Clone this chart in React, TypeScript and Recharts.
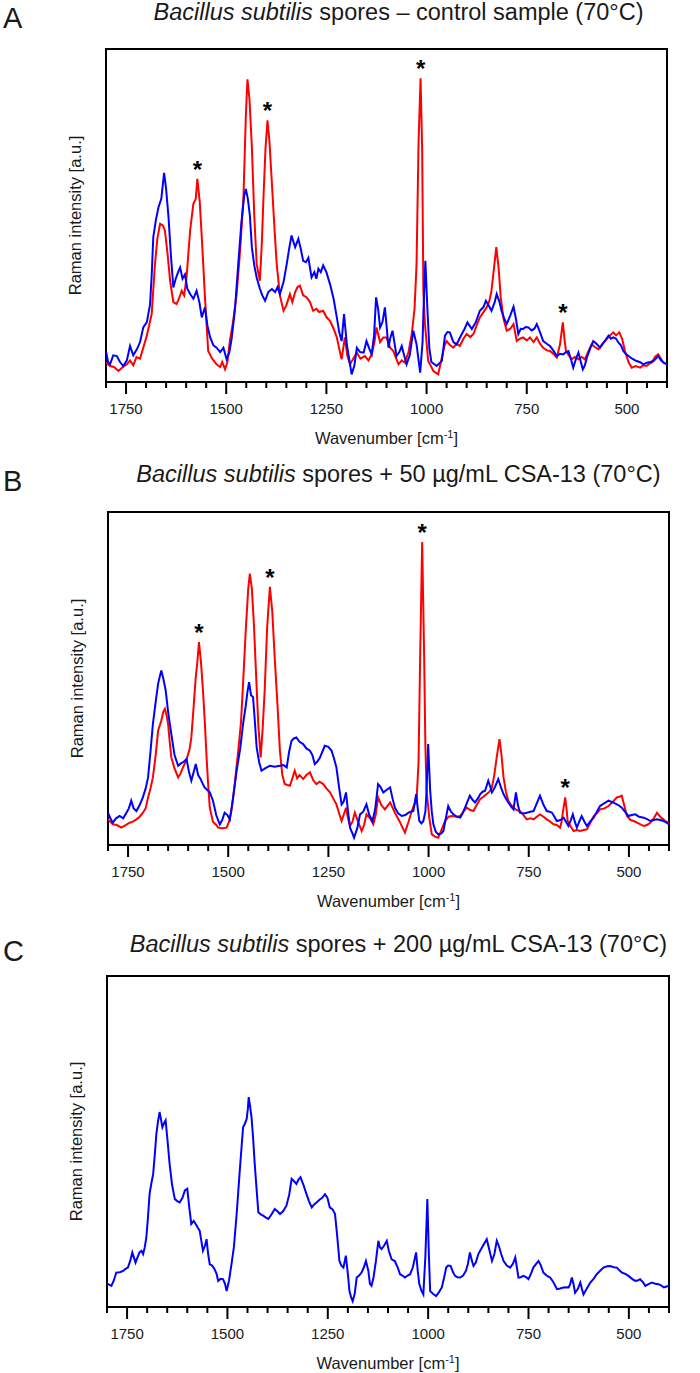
import { LineChart, Line, XAxis, YAxis, ReferenceArea, ReferenceDot } from "recharts";

const FONT = '"Liberation Sans", Arial, sans-serif';

// x axis ticks (cm-1)
const tickValues = [
  400, 450, 500, 550, 600, 650, 700, 750, 800, 850, 900, 950, 1000, 1050, 1100,
  1150, 1200, 1250, 1300, 1350, 1400, 1450, 1500, 1550, 1600, 1650, 1700, 1750, 1800,
];
const majorTicks = [1750, 1500, 1250, 1000, 750, 500];

// ---- panel A: control sample ----
const aRedWn = [
  1800, 1790, 1780, 1769, 1758, 1748, 1740, 1732, 1724, 1715,
  1707, 1698, 1686, 1678, 1672, 1665, 1658, 1653, 1646, 1640,
  1632, 1624, 1618, 1611, 1605, 1599, 1590, 1582, 1576, 1572,
  1566, 1561, 1553, 1545, 1535, 1524, 1515, 1510, 1503, 1497,
  1491, 1483, 1474, 1465, 1457, 1451, 1447, 1442, 1436, 1430,
  1424, 1416, 1411, 1407, 1402, 1397, 1392, 1384, 1379, 1374,
  1366, 1357, 1350, 1341, 1335, 1328, 1322, 1316, 1308, 1299,
  1291, 1283, 1275, 1268, 1258, 1250, 1241, 1232, 1224, 1218,
  1212, 1204, 1198, 1191, 1183, 1174, 1165, 1154, 1145, 1137,
  1130, 1125, 1116, 1108, 1100, 1091, 1083, 1070, 1062, 1054,
  1045, 1037, 1030, 1025, 1020, 1015, 1011, 1008, 1004, 996,
  990, 983, 971, 962, 955, 950, 941, 933, 925, 917,
  908, 900, 891, 883, 875, 867, 858, 850, 843, 838,
  832, 826, 820, 815, 808, 800, 791, 783, 775, 767,
  759, 750, 742, 733, 725, 717, 709, 700, 692, 684,
  675, 667, 660, 655, 652, 645, 638, 630, 621, 613,
  605, 597, 588, 580, 571, 561, 551, 542, 534, 527,
  519, 512, 505, 496, 488, 478, 467, 459, 451, 444,
  438, 430, 422, 415, 409, 400,
];
const aRedI = [
  5.8, 4.8, 4.5, 3.3, 4.5, 5.3, 6.5, 5.0, 7.5, 7.0,
  10.3, 14, 20.4, 35, 43, 47.5, 47, 45.5, 38, 30.4,
  24, 23.4, 25, 27.4, 26, 31.4, 45.5, 53.5, 55, 61,
  54, 43.5, 25.4, 9.3, 7, 5.3, 4.5, 6, 3.8, 6,
  12.3, 18, 26.4, 40, 55.5, 80, 90.9, 85, 70.6, 50,
  35.4, 30.4, 42, 55.5, 70, 78.6, 72, 55.5, 45, 35.4,
  26, 21.4, 23, 26.4, 24, 27, 28.5, 28.9, 26, 25.4,
  24, 21.4, 22, 21, 21.4, 19.5, 18.4, 16, 13.4, 10,
  6.8, 13.4, 8, 5.3, 7, 8.8, 7, 7.8, 6.5, 8.3,
  12, 16.4, 12, 13.4, 13.4, 10.3, 9.3, 5.3, 6.5, 5.8,
  9, 14.4, 22, 35.4, 72, 91.2, 70, 27.4, 17.4, 6.3,
  5, 3.3, 2.3, 7.3, 11, 12.3, 11, 10.3, 11.5, 10.8,
  13, 14.4, 13.5, 14.4, 17, 19.4, 21, 22.4, 24.5, 27.4,
  34, 40.5, 34, 25.4, 19, 15.4, 16, 17.4, 12.3, 13,
  13.4, 12.5, 13.4, 12, 13.4, 11.5, 10.3, 9.5, 9.3, 8.5,
  7.3, 11.3, 17.9, 12, 9.3, 8, 6.8, 7.5, 6.8, 7.5,
  6.8, 9, 11.3, 10.5, 9.8, 11.5, 12.8, 14, 14.9, 14,
  14.9, 13, 9.3, 6, 4.3, 4.8, 4.3, 5, 4.8, 5.5,
  5.8, 7.5, 8.3, 7, 5.8, 5.3,
];
const aBlueWn = [
  1800, 1795, 1790, 1782, 1773, 1765, 1757, 1748, 1740, 1732,
  1723, 1715, 1707, 1698, 1690, 1686, 1682, 1675, 1669, 1662,
  1655, 1650, 1644, 1638, 1632, 1626, 1620, 1615, 1609, 1603,
  1597, 1590, 1582, 1574, 1567, 1561, 1553, 1547, 1540, 1532,
  1524, 1515, 1507, 1499, 1492, 1486, 1478, 1470, 1462, 1455,
  1451, 1446, 1441, 1436, 1430, 1424, 1416, 1410, 1403, 1395,
  1386, 1378, 1372, 1366, 1357, 1349, 1343, 1337, 1332, 1328,
  1320, 1314, 1308, 1301, 1295, 1287, 1280, 1275, 1270, 1264,
  1258, 1250, 1241, 1232, 1224, 1218, 1212, 1206, 1199, 1192,
  1187, 1180, 1174, 1166, 1157, 1150, 1143, 1137, 1131, 1126,
  1121, 1116, 1110, 1104, 1095, 1091, 1085, 1075, 1068, 1062,
  1056, 1050, 1042, 1033, 1025, 1016, 1010, 1008, 1003, 998,
  993, 988, 975, 962, 954, 948, 942, 933, 925, 918,
  912, 905, 898, 887, 877, 867, 858, 852, 845, 838,
  830, 825, 818, 813, 806, 800, 791, 783, 777, 771,
  765, 759, 753, 746, 738, 731, 725, 717, 709, 700,
  692, 684, 675, 667, 659, 652, 646, 640, 634, 627,
  621, 615, 610, 605, 600, 592, 584, 576, 567, 557,
  546, 540, 534, 527, 521, 515, 509, 503, 496, 487,
  476, 468, 459, 450, 442, 434, 428, 422, 415, 408,
  400,
];
const aBlueI = [
  9.3, 6, 5.3, 8, 7.8, 6, 4.8, 6.5, 10.8, 8,
  9.8, 12, 16.4, 18, 23.4, 32, 43.5, 49, 52.5, 55,
  62.8, 58, 49.5, 38, 28.4, 31, 33, 34.4, 31, 32.3,
  28, 26.4, 25, 27.4, 24, 19.4, 22.4, 17, 13.4, 11,
  10.3, 9, 10.3, 6.8, 9, 13.4, 22, 35.4, 48, 56,
  58, 55, 50, 40.5, 35, 31.4, 28, 26, 24.4, 27,
  27.9, 27, 28.5, 26.4, 30, 35.4, 40, 44, 42, 40.5,
  43, 40, 36.4, 36, 37.3, 31.4, 33, 31, 34, 33,
  35, 33, 29.4, 25, 19.4, 15, 12.3, 20.4, 11.3, 6,
  2.3, 5, 10.3, 9, 8.8, 12.3, 10, 8.3, 14, 25.4,
  22, 16.4, 18, 22.4, 10.3, 13, 15.4, 7.8, 9, 10.8,
  8, 5.3, 8, 15.4, 11.3, 2.8, 12, 20.4, 36.4, 22,
  10, 6, 4.8, 6.3, 13.9, 15, 14.9, 12, 11.3, 13,
  14.4, 16, 17.9, 15.9, 18, 21.4, 22.5, 24.4, 23, 21.4,
  24, 26.4, 24, 21.4, 19, 17.4, 20, 22.6, 19, 14.4,
  16, 15.9, 16.5, 16.4, 15.5, 16, 17.4, 15, 12.3, 11.5,
  10.8, 9.5, 7.8, 8.5, 8.3, 9, 9.3, 7, 4.3, 7,
  8.8, 6, 3.8, 5, 7.3, 10, 12.3, 11.5, 10.3, 12,
  13.9, 13, 13.4, 13, 11.8, 11, 9.3, 8.5, 7.8, 7,
  6.3, 6, 5.3, 5.8, 6, 6.3, 7, 7.8, 6.5, 5.8,
  5.3,
];
const aStars = [1572, 1397, 1015, 660];

// ---- panel B: + 50 ug/mL CSA-13 ----
const bRedWn = [
  1800, 1788, 1778, 1767, 1756, 1746, 1738, 1729, 1721, 1713,
  1706, 1700, 1694, 1688, 1681, 1675, 1667, 1662, 1658, 1654,
  1650, 1646, 1642, 1634, 1625, 1619, 1613, 1606, 1600, 1596,
  1592, 1586, 1581, 1577, 1573, 1568, 1563, 1558, 1554, 1550,
  1546, 1538, 1530, 1525, 1515, 1504, 1498, 1492, 1484, 1475,
  1468, 1463, 1456, 1450, 1446, 1441, 1436, 1430, 1425, 1419,
  1414, 1409, 1403, 1396, 1390, 1384, 1377, 1371, 1365, 1359,
  1352, 1346, 1340, 1334, 1328, 1322, 1313, 1305, 1296, 1288,
  1280, 1272, 1263, 1255, 1246, 1238, 1230, 1222, 1217, 1212,
  1206, 1201, 1196, 1190, 1184, 1176, 1167, 1161, 1155, 1146,
  1138, 1132, 1126, 1118, 1109, 1096, 1084, 1072, 1059, 1050,
  1042, 1036, 1030, 1025, 1021, 1016, 1011, 1008, 1005, 998,
  992, 984, 976, 968, 959, 950, 942, 930, 921, 913,
  905, 896, 888, 880, 871, 863, 855, 848, 842, 836,
  830, 823, 818, 813, 807, 801, 794, 788, 780, 772,
  763, 755, 746, 738, 730, 722, 713, 705, 696, 688,
  680, 672, 668, 665, 659, 655, 653, 645, 638, 630,
  622, 613, 605, 597, 588, 580, 572, 561, 551, 540,
  530, 524, 518, 512, 505, 496, 488, 476, 463, 455,
  447, 438, 430, 422, 414, 407, 400,
];
const bRedI = [
  7.7, 6.2, 6, 5.2, 6, 6.7, 7, 7.7, 8.5, 9.7,
  11, 14.3, 17, 20.3, 27, 34.3, 37.3, 40, 40.9, 39,
  36.3, 31, 26.3, 23, 20.3, 21.5, 23.3, 25, 27.3, 29,
  32.3, 42, 50.4, 55, 60.9, 55, 46.4, 36, 26.3, 18,
  11.2, 7, 6, 5.2, 5, 5.2, 7, 10.2, 18, 28.3,
  37, 48.4, 65, 77, 81.5, 77, 66.5, 50, 36.3, 26.3,
  35, 46.4, 65, 77.5, 70, 56.4, 42, 28.3, 21, 18.3,
  18, 17.8, 20, 22.3, 20, 21, 19.8, 21, 21.8, 19.5,
  18.3, 19, 18.3, 17, 15.8, 14, 12.2, 9, 7.2, 9,
  11.2, 8, 5.7, 7, 9.7, 7, 4.2, 6, 9.2, 8,
  6.2, 9, 14.3, 12, 10.7, 12.8, 9.7, 7, 3.7, 7,
  10.2, 12, 13.3, 25, 56.4, 91, 56.4, 30, 16.3, 8,
  3.2, 2.5, 2.2, 4.5, 7.2, 8.5, 8.7, 8.5, 8.7, 10,
  11.2, 10.5, 10.2, 12, 13.8, 14.5, 15.3, 16, 17.3, 21,
  26.3, 31.8, 27, 20.3, 16, 13.3, 12, 11.2, 10.5, 10.2,
  9, 7.7, 8, 7.7, 8.5, 9.2, 8.5, 7.7, 7, 6.2,
  6, 5.2, 7, 9.7, 14.3, 10, 7.2, 5.5, 4.2, 4.5,
  4.2, 4.5, 4.7, 6.5, 8.7, 9.5, 10.7, 11, 11.7, 13,
  14.3, 14.5, 14.8, 12, 8.7, 7.5, 7.2, 6.5, 5.7, 6,
  6.7, 8, 9.7, 8.5, 7.7, 7, 6.7,
];
const bBlueWn = [
  1800, 1794, 1788, 1780, 1771, 1762, 1754, 1748, 1742, 1736,
  1729, 1721, 1713, 1706, 1700, 1694, 1688, 1681, 1675, 1670,
  1667, 1662, 1656, 1650, 1642, 1634, 1625, 1618, 1611, 1604,
  1598, 1592, 1586, 1581, 1575, 1569, 1564, 1559, 1552, 1546,
  1538, 1530, 1521, 1515, 1509, 1502, 1496, 1488, 1479, 1470,
  1463, 1456, 1452, 1448, 1443, 1438, 1434, 1429, 1423, 1417,
  1408, 1396, 1384, 1371, 1362, 1354, 1348, 1342, 1336, 1330,
  1322, 1313, 1305, 1296, 1290, 1284, 1278, 1271, 1265, 1259,
  1250, 1242, 1236, 1230, 1223, 1217, 1212, 1206, 1201, 1196,
  1190, 1186, 1178, 1171, 1163, 1155, 1148, 1140, 1133, 1126,
  1120, 1113, 1105, 1096, 1090, 1084, 1076, 1067, 1058, 1050,
  1044, 1038, 1031, 1027, 1023, 1018, 1013, 1008, 1005, 1001,
  996, 992, 988, 982, 976, 968, 963, 957, 951, 944,
  938, 930, 921, 915, 909, 903, 897, 890, 884, 877,
  871, 865, 859, 851, 846, 842, 834, 826, 820, 813,
  807, 801, 794, 788, 782, 777, 772, 763, 755, 746,
  738, 730, 722, 713, 705, 698, 692, 686, 680, 671,
  663, 657, 651, 645, 640, 635, 630, 624, 618, 611,
  605, 597, 588, 580, 572, 562, 551, 540, 530, 524,
  518, 510, 501, 493, 484, 475, 463, 455, 447, 438,
  430, 422, 414, 407, 400,
];
const bBlueI = [
  9.7, 8, 6.7, 8, 8.7, 8, 9.7, 11, 13.3, 11,
  10.2, 12, 14.3, 17, 20.3, 28, 36.3, 43, 48.4, 51,
  52.4, 50, 46.4, 40, 33.3, 27, 23.8, 24.5, 25, 25.8,
  22, 19.3, 22, 24.3, 21, 19.8, 18.5, 17.3, 16.5, 15.8,
  13.3, 9, 6.2, 7.5, 9.7, 9, 7.7, 14, 22.3, 29,
  36.3, 42, 46, 48.9, 45, 44.4, 38, 29.3, 25, 22.3,
  23, 23.8, 23.5, 23.8, 24, 23.3, 28, 31.3, 32, 32.3,
  31, 30.3, 29, 28.3, 27, 24.3, 25, 26.3, 28, 29.8,
  29.5, 28.3, 26, 23.3, 17, 12.2, 13, 15.8, 10, 5.2,
  3.5, 2.2, 5, 9.2, 10, 12.2, 9, 7.2, 11, 18.3,
  17.5, 15.8, 16.5, 17.3, 14, 11.2, 9.5, 8.7, 9, 9.7,
  10, 10.2, 15.3, 11, 7.2, 6.5, 7.2, 10, 16.3, 30.3,
  16.3, 10, 6.2, 4, 3.2, 3.5, 4.2, 8, 11.7, 10,
  9.2, 8.5, 8.2, 9.5, 11.2, 13, 14.8, 13.5, 12.8, 14,
  15.3, 16, 16.3, 19.3, 17.5, 15.8, 17.5, 19.8, 17.5, 15.3,
  14, 12.8, 11.5, 10.7, 15.8, 12, 9.7, 9.5, 9.7, 10,
  10.2, 12.5, 14.8, 12, 10.2, 10, 9.7, 8.5, 7.2, 7.5,
  8.2, 7, 5.7, 7.5, 9.2, 7, 5.2, 7, 8.7, 7,
  5.7, 7, 8.2, 10, 11.7, 12.5, 13.3, 12.8, 12.2, 11.8,
  11.2, 10, 8.7, 9, 9.2, 8.5, 8.2, 7.8, 7.2, 7.5,
  7.7, 7.5, 7.2, 6.8, 6.2,
];
const bStars = [1573, 1396, 1016, 659];

// ---- panel C: + 200 ug/mL CSA-13 ----
const cBlueWn = [
  1800, 1797, 1789, 1783, 1777, 1768, 1760, 1754, 1748, 1742,
  1737, 1733, 1729, 1724, 1719, 1714, 1710, 1706, 1702, 1698,
  1694, 1690, 1685, 1681, 1677, 1673, 1669, 1666, 1662, 1658,
  1654, 1649, 1644, 1638, 1631, 1625, 1619, 1612, 1606, 1600,
  1595, 1590, 1584, 1579, 1574, 1569, 1565, 1561, 1556, 1552,
  1548, 1544, 1538, 1532, 1527, 1523, 1517, 1511, 1506, 1502,
  1496, 1490, 1484, 1477, 1470, 1465, 1461, 1456, 1452, 1449,
  1447, 1444, 1440, 1436, 1432, 1427, 1423, 1417, 1411, 1404,
  1398, 1390, 1382, 1376, 1369, 1361, 1353, 1346, 1340, 1334,
  1328, 1323, 1318, 1311, 1303, 1297, 1290, 1284, 1278, 1270,
  1264, 1257, 1251, 1245, 1238, 1232, 1227, 1221, 1216, 1211,
  1205, 1200, 1196, 1192, 1188, 1183, 1178, 1172, 1166, 1160,
  1155, 1149, 1145, 1141, 1136, 1130, 1124, 1120, 1116, 1110,
  1103, 1098, 1091, 1083, 1076, 1070, 1064, 1058, 1051, 1045,
  1038, 1030, 1026, 1022, 1017, 1012, 1007, 1002, 998, 995,
  988, 980, 973, 966, 960, 955, 950, 944, 938, 933,
  927, 920, 913, 906, 901, 896, 891, 887, 881, 875,
  868, 861, 854, 847, 841, 835, 829, 824, 818, 812,
  804, 796, 789, 783, 779, 775, 769, 763, 756, 750,
  744, 738, 731, 725, 719, 713, 705, 696, 688, 679,
  671, 663, 656, 650, 646, 642, 638, 634, 627, 621,
  617, 613, 605, 596, 588, 580, 571, 563, 554, 546,
  538, 530, 523, 517, 509, 501, 492, 484, 478, 472,
  465, 459, 450, 442, 434, 426, 419, 413, 406, 400,
];
const cBlueI = [
  7, 6.9, 6.4, 8, 10.4, 10.5, 10.9, 11.5, 11.9, 14,
  16.5, 15, 13.4, 15, 16.5, 17, 16, 18, 21, 27,
  34.1, 37, 40.2, 46, 52.3, 56, 58.9, 57, 54.3, 55.5,
  56.4, 50, 43.2, 37, 32.6, 32, 31.6, 33, 35.2, 35.7,
  30, 25.1, 26, 25.1, 24, 23, 20, 17, 18.5, 20.5,
  16, 12.9, 12.5, 11.4, 10, 7.9, 8.5, 8.4, 7, 4.8,
  8, 12.9, 18, 28.1, 40, 48, 54.3, 55.5, 56.9, 60,
  63.4, 61, 57.4, 51, 43.2, 35, 28.6, 28, 27.6, 27,
  26.6, 28, 29.6, 29, 28.1, 29, 30.6, 34, 38.7, 38,
  37.2, 38.5, 39.2, 37, 34.1, 32, 30.1, 31, 31.6, 32.5,
  33, 34.1, 33, 30.1, 29.5, 28.1, 22, 13.9, 12.5, 11.9,
  15.5, 10, 4.8, 3, 1.8, 4, 8.9, 9.5, 10.4, 12,
  13.9, 11, 7, 6.4, 9, 14, 20, 18, 17.5, 18.5,
  20, 17, 14.4, 13.9, 12, 9.9, 9.5, 8.9, 9.5, 9.9,
  12, 16.5, 11, 6.9, 5, 3.8, 15, 32.6, 15, 4.8,
  4, 3.3, 4.5, 5.9, 9, 11.9, 12.5, 12.4, 10.5, 9.4,
  9, 8.9, 9.5, 10.9, 13, 16.5, 14, 12.4, 13.5, 16,
  17.5, 19, 20.5, 17, 13.9, 16, 20, 18.5, 16, 13.9,
  12.5, 11.9, 13, 15, 12, 8.9, 9, 9.4, 9, 8.4,
  10, 11.9, 13, 13.9, 12.5, 10.4, 9.5, 8.9, 7.5, 5.4,
  5.6, 5.9, 6, 5.9, 7, 8.9, 7, 4.3, 5.5, 7.4,
  5.5, 3.8, 5.5, 7.4, 8.5, 9.9, 11, 11.9, 12.3, 12.4,
  12, 11.9, 11, 10.4, 10, 9.4, 8.5, 7.9, 8, 8.4,
  7.5, 6.4, 7, 7.4, 7, 6.9, 6.5, 5.9, 6.2, 6.4,
];

type Pt = { wn: number; v: number };
const toPoints = (wn: number[], v: number[]): Pt[] => wn.map((w, i) => ({ wn: w, v: v[i] }));

const WaveTick = (props: any) => {
  const { x, y, payload } = props;
  const major = majorTicks.includes(payload.value);
  return (
    <g>
      <line x1={x} y1={y} x2={x} y2={y + (major ? 12 : 6)} stroke="#000" strokeWidth={2} />
      {major && (
        <text x={x} y={y + 32} textAnchor="middle" fontSize={15} fill="#1a1a1a">
          {payload.value}
        </text>
      )}
    </g>
  );
};

const XTitle = (props: any) => {
  const vb = props.viewBox;
  return (
    <text x={vb.x + vb.width / 2} y={vb.y + 62} textAnchor="middle" fontSize={16.5} fill="#1a1a1a">
      Wavenumber [cm<tspan dy={-6} fontSize={11}>-1</tspan>
      <tspan dy={6}>]</tspan>
    </text>
  );
};

const YTitle = (props: any) => {
  const vb = props.viewBox;
  const cx = vb.x + vb.width / 2;
  const cy = vb.y + vb.height / 2;
  return (
    <text
      x={cx}
      y={cy}
      transform={`rotate(-90 ${cx} ${cy})`}
      textAnchor="middle"
      dominantBaseline="central"
      fontSize={16.5}
      fill="#1a1a1a"
    >
      Raman intensity [a.u.]
    </text>
  );
};

interface PanelProps {
  top: number;
  bottom: number;
  left: number;
  right: number;
  red?: Pt[];
  blue: Pt[];
  stars?: number[];
}

const Spectrum = ({ top, bottom, left, right, red, blue, stars = [] }: PanelProps) => {
  const padTop = 24;
  const axisH = 78;
  const yAxisW = 62;
  return (
    <div style={{ position: "absolute", left: 0, top: top - padTop }}>
      <LineChart
        width={700}
        height={bottom - top + padTop + axisH}
        margin={{ top: padTop, right: 700 - right, bottom: 0, left: left - yAxisW }}
      >
        <XAxis
          type="number"
          dataKey="wn"
          domain={[400, 1800]}
          reversed
          ticks={tickValues}
          interval={0}
          tick={<WaveTick />}
          tickLine={false}
          axisLine={false}
          tickSize={0}
          tickMargin={0}
          height={axisH}
          label={<XTitle />}
          allowDataOverflow
        />
        <YAxis
          type="number"
          domain={[0, 100]}
          width={yAxisW}
          tick={false}
          tickLine={false}
          axisLine={false}
          label={<YTitle />}
        />
        {red && (
          <Line data={red} dataKey="v" type="linear" stroke="#ff0000" strokeWidth={2} dot={false} isAnimationActive={false} />
        )}
        <Line data={blue} dataKey="v" type="linear" stroke="#0000ff" strokeWidth={2} dot={false} isAnimationActive={false} />
        <ReferenceArea x1={1800} x2={400} y1={0} y2={100} fill="none" stroke="#000" strokeWidth={2} ifOverflow="visible" />
        {red &&
          stars.map((s) => {
            const p = red.find((d) => d.wn === s);
            return (
              <ReferenceDot
                key={s}
                x={s}
                y={p ? p.v : 0}
                r={0}
                fill="none"
                stroke="none"
                label={{ value: "*", position: "top", offset: 1, fontSize: 24, fontWeight: 700, fill: "#000" }}
              />
            );
          })}
      </LineChart>
    </div>
  );
};

const Title = ({ y, rest }: { y: number; rest: string }) => (
  <text x={398.5} y={y} textAnchor="middle" fontSize={23.5} fill="#1a1a1a">
    <tspan fontStyle="italic">Bacillus subtilis</tspan> {rest}
  </text>
);

export default function App() {
  return (
    <div style={{ position: "absolute", left: 0, top: 0, width: 700, height: 1373, background: "#fff", fontFamily: FONT }}>
      <Spectrum top={49} bottom={382} left={106} right={667} red={toPoints(aRedWn, aRedI)} blue={toPoints(aBlueWn, aBlueI)} stars={aStars} />
      <Spectrum top={512} bottom={845} left={108} right={669} red={toPoints(bRedWn, bRedI)} blue={toPoints(bBlueWn, bBlueI)} stars={bStars} />
      <Spectrum top={976} bottom={1307} left={107} right={669} blue={toPoints(cBlueWn, cBlueI)} />
      <svg width={700} height={1373} style={{ position: "absolute", left: 0, top: 0, pointerEvents: "none" }}>
        <text x={3} y={28} fontSize={29} fill="#1a1a1a">A</text>
        <text x={3} y={491} fontSize={29} fill="#1a1a1a">B</text>
        <text x={3} y={961} fontSize={29} fill="#1a1a1a">C</text>
        <Title y={19.5} rest="spores – control sample (70°C)" />
        <Title y={482} rest="spores + 50 µg/mL CSA-13 (70°C)" />
        <Title y={951.5} rest="spores + 200 µg/mL CSA-13 (70°C)" />
      </svg>
    </div>
  );
}
